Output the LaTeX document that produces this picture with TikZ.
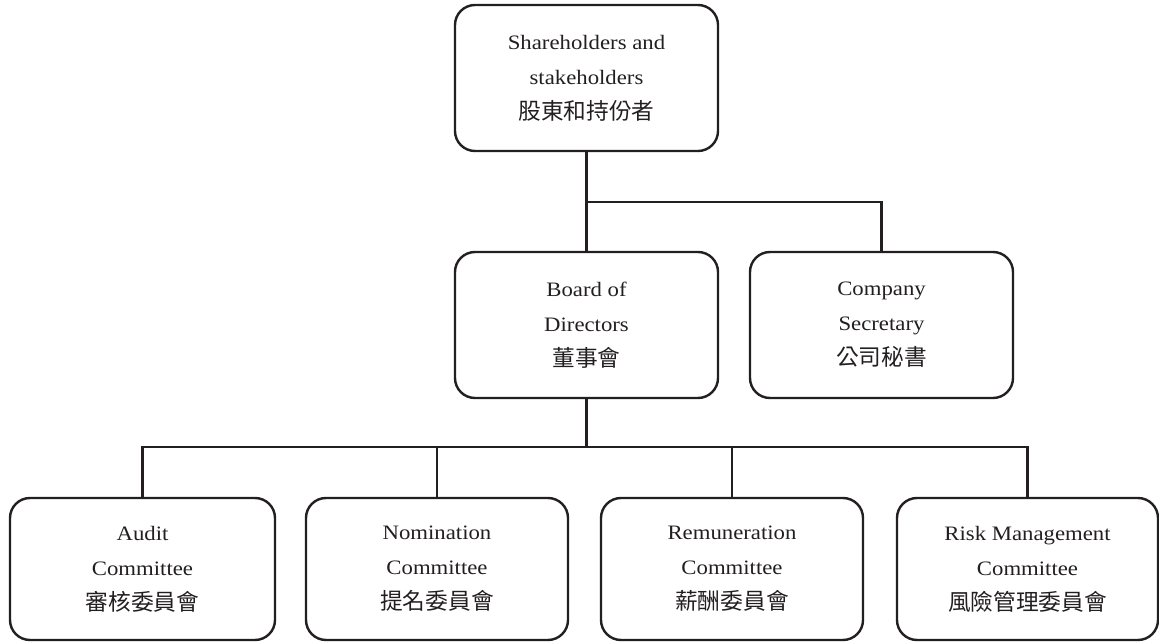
\documentclass[tikz,border=0pt]{standalone}
\usepackage{fontspec}
\setmainfont{Liberation Serif}[FakeStretch=1.11]
\newfontfamily\cjk{Noto Sans CJK TC}
\newcommand\cjtext[1]{{\fontsize{22.7pt}{35pt}\selectfont\cjk #1}}
\definecolor{ink}{HTML}{231F20}
\begin{document}
\begin{tikzpicture}[x=1pt,y=-1pt,
  box/.style={draw=ink, line width=2.4pt, rounded corners=20pt, align=center,
    inner sep=0pt, font=\fontsize{20.5pt}{35pt}\selectfont, text=ink},
  wide/.style={minimum width=263pt, minimum height=146pt},
  low/.style={minimum height=142pt},
  link/.style={draw=ink, line width=2.4pt}]
\useasboundingbox (0,0) rectangle (1159,644);
\node[box,wide] (top) at (586.5,78) {Shareholders and\\stakeholders\\\cjtext{股東和持份者}};
\node[box,wide] (board) at (586.5,325) {Board of\\Directors\\\cjtext{董事會}};
\node[box,wide] (sec) at (881.5,325) {Company\\Secretary\\\cjtext{公司秘書}};
\node[box,low,minimum width=265pt] (audit) at (142.5,569) {Audit\\Committee\\\cjtext{審核委員會}};
\node[box,low,minimum width=262pt] (nom) at (437,569) {Nomination\\Committee\\\cjtext{提名委員會}};
\node[box,low,minimum width=262pt] (rem) at (732,569) {Remuneration\\Committee\\\cjtext{薪酬委員會}};
\node[box,low,minimum width=261pt] (risk) at (1027.5,569) {Risk Management\\Committee\\\cjtext{風險管理委員會}};
\coordinate (j1) at (586.5,202);
\coordinate (j2) at (586.5,447);
\draw[link] (top.south) -- (board.north);
\draw[link] (j1) -| (sec.north);
\draw[link] (board.south) -- (j2);
\draw[link] (audit.north) -- (audit.north |- j2) -- (risk.north |- j2) -- (risk.north);
\draw[link] (nom.north) -- (nom.north |- j2);
\draw[link] (rem.north) -- (rem.north |- j2);
\end{tikzpicture}
\end{document}
